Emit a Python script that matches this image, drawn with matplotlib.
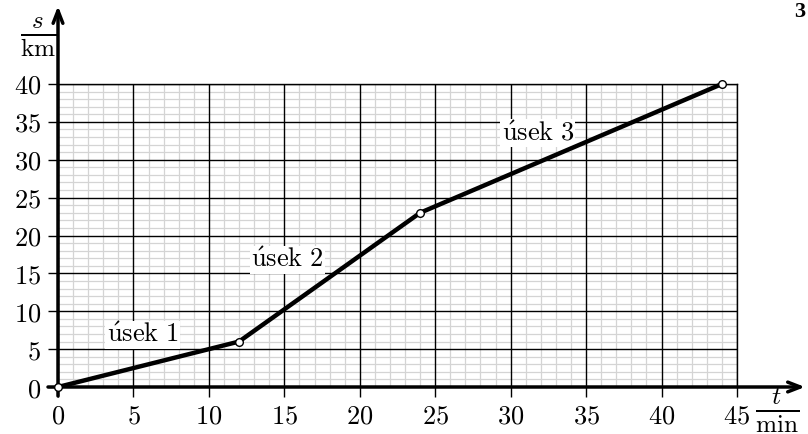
import matplotlib.pyplot as plt
import numpy as np

plt.rcParams['mathtext.fontset'] = 'cm'
plt.rcParams['font.family'] = 'serif'

# data of the s-t graph
t_points = [0, 12, 24, 44]
s_points = [0, 6, 23, 40]
x_ticks = [0, 5, 10, 15, 20, 25, 30, 35, 40, 45]
y_ticks = [0, 5, 10, 15, 20, 25, 30, 35, 40]
labels = [r'$\mathrm{\acute{u}sek\ 1}$', r'$\mathrm{\acute{u}sek\ 2}$', r'$\mathrm{\acute{u}sek\ 3}$']
label_t = [5.6, 15.2, 31.8]
label_s = [6.9, 16.8, 33.5]

W, H = 808, 434
fig = plt.figure(figsize=(W/100, H/100), dpi=100)
ax = fig.add_axes([58/W, (H-387)/H, (737-58)/W, (387-84)/H])
ax.set_xlim(0, 45)
ax.set_ylim(0, 40)

# millimetre paper: light minor lines first, then the black major lines on top
for v in range(46):
    if v % 5:
        ax.axvline(v, color='#d4d4d4', lw=0.9, zorder=0.5)
for v in range(41):
    if v % 5:
        ax.axhline(v, color='#d4d4d4', lw=0.9, zorder=0.5)
for v in x_ticks:
    ax.axvline(v, color='black', lw=1.0, zorder=1)
for v in y_ticks:
    ax.axhline(v, color='black', lw=1.0, zorder=1)

ax.set_xticks(x_ticks)
ax.set_yticks(y_ticks)
ax.set_xticklabels(['$%d$' % v for v in x_ticks], fontsize=19)
ax.set_yticklabels(['$%d$' % v for v in y_ticks], fontsize=19)
ax.tick_params(which='major', direction='out', length=7, width=1.0, pad=5)
for side in ['top', 'right']:
    ax.spines[side].set_linewidth(1.0)
for side in ['left', 'bottom']:
    ax.spines[side].set_visible(False)

# axes with arrows
ax.annotate('', xy=(805/W, (H-387)/H), xytext=(48/W, (H-387)/H), xycoords='figure fraction',
            arrowprops=dict(arrowstyle='->, head_length=0.9, head_width=0.35', lw=2.5, color='black',
                            shrinkA=0, shrinkB=0))
ax.annotate('', xy=(58/W, (H-6)/H), xytext=(58/W, (H-396)/H), xycoords='figure fraction',
            arrowprops=dict(arrowstyle='->, head_length=0.9, head_width=0.35', lw=2.5, color='black',
                            shrinkA=0, shrinkB=0))

# graph
ax.plot(t_points, s_points, color='black', lw=3.2, zorder=3, clip_on=False)
ax.plot(t_points, s_points, 'o', ms=5.5, mfc='white', mec='black', mew=1, zorder=4, clip_on=False)

for txt, x, y in zip(labels, label_t, label_s):
    ax.text(x, y, txt, fontsize=19, ha='center', va='center', zorder=2,
            bbox=dict(facecolor='white', edgecolor='none', pad=1))

# axis labels as fractions
fig.text(38/W, 1 - 37/H, r'$\frac{s}{\mathrm{km}}$', fontsize=26, ha='center', va='center')
fig.text(777/W, 1 - 411/H, r'$\frac{t}{\mathrm{min}}$', fontsize=26, ha='center', va='center')
fig.text(800/W, 1 - 12/H, '3', fontsize=16, fontweight='bold', family='Liberation Serif',
         ha='center', va='center')

fig.savefig('out.png', dpi=100)
